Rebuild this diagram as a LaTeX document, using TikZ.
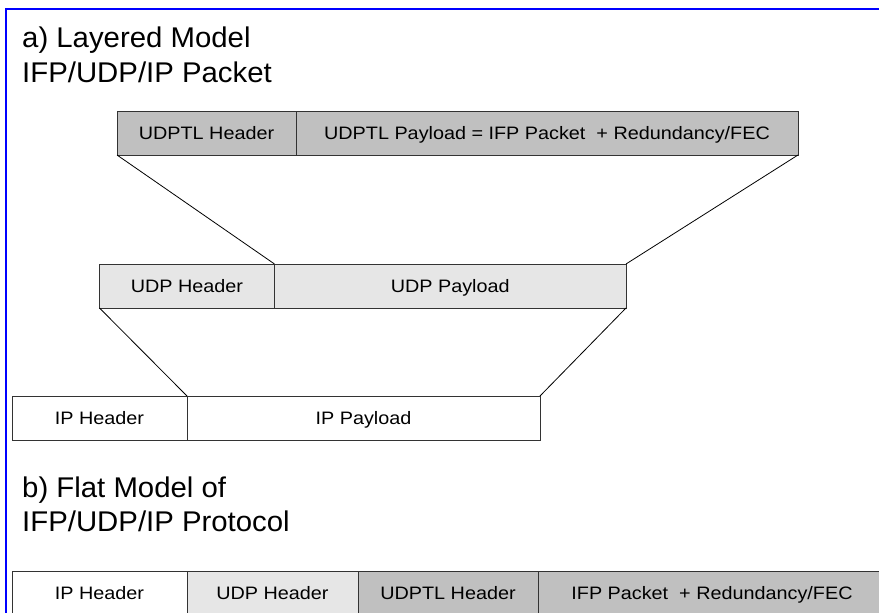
\documentclass[tikz,border=0pt]{standalone}
\usepackage{fontspec}
\setmainfont{Liberation Sans}
\newfontfamily\cellfont[FakeStretch=1.1]{Liberation Sans}
\newfontfamily\headfont[FakeStretch=1.03]{Liberation Sans}
\definecolor{hdrgray}{HTML}{C0C0C0}
\definecolor{lightgray}{HTML}{E6E6E6}
\definecolor{frameblue}{HTML}{0000FF}
\begin{document}
\begin{tikzpicture}[x=1pt,y=-1pt,
  cell/.style={draw=black!80, line width=1pt, rectangle, inner sep=0pt, outer sep=0pt,
    anchor=north west, minimum height=44, text height=13, text depth=0,
    font=\cellfont\fontsize{18}{20}\selectfont},
  heading/.style={anchor=base west, inner sep=0pt,
    font=\headfont\fontsize{28.5}{34}\selectfont},
  link/.style={draw=black, line width=0.8pt}]
  \useasboundingbox (0,0) rectangle (879,613);
  \begin{scope}
  \clip (0,0) rectangle (879,613);
  % outer frame (top and left edges)
  \draw[frameblue, line width=2pt] (879,8.7) -- (6,8.7) -- (6,613);

  % a) layered model
  \node[heading] (ha1) at (22,47.3) {a) Layered Model};
  \node[heading] (ha2) at (22,82.7) {IFP/UDP/IP Packet};

  \node[cell, fill=hdrgray, minimum width=179] (udptlh) at (117,111) {UDPTL Header};
  \node[cell, fill=hdrgray, minimum width=502] (udptlp) at (296,111)
    {UDPTL Payload = IFP Packet\ \ + Redundancy/FEC};

  \node[cell, fill=lightgray, minimum width=175] (udph) at (99.5,264) {UDP Header};
  \node[cell, fill=lightgray, minimum width=351.5] (udpp) at (274.5,264) {UDP Payload};

  \node[cell, fill=white, minimum width=175] (iph) at (12,396) {IP Header};
  \node[cell, fill=white, minimum width=353] (ipp) at (187,396) {IP Payload};

  \draw[link] (udptlh.south west) -- (udpp.north west);
  \draw[link] (udptlp.south east) -- (udpp.north east);
  \draw[link] (udph.south west) -- (ipp.north west);
  \draw[link] (udpp.south east) -- (ipp.north east);

  % b) flat model
  \node[heading] (hb1) at (22,497) {b) Flat Model of};
  \node[heading] (hb2) at (22,531.7) {IFP/UDP/IP Protocol};

  \node[cell, fill=white, minimum width=175] (fip) at (12,571) {IP Header};
  \node[cell, fill=lightgray, minimum width=171] (fudp) at (187,571) {UDP Header};
  \node[cell, fill=hdrgray, minimum width=180] (fudptl) at (358,571) {UDPTL Header};
  \node[cell, fill=hdrgray, minimum width=348] (fifp) at (538,571)
    {IFP Packet\ \ + Redundancy/FEC};
  \end{scope}
\end{tikzpicture}
\end{document}
